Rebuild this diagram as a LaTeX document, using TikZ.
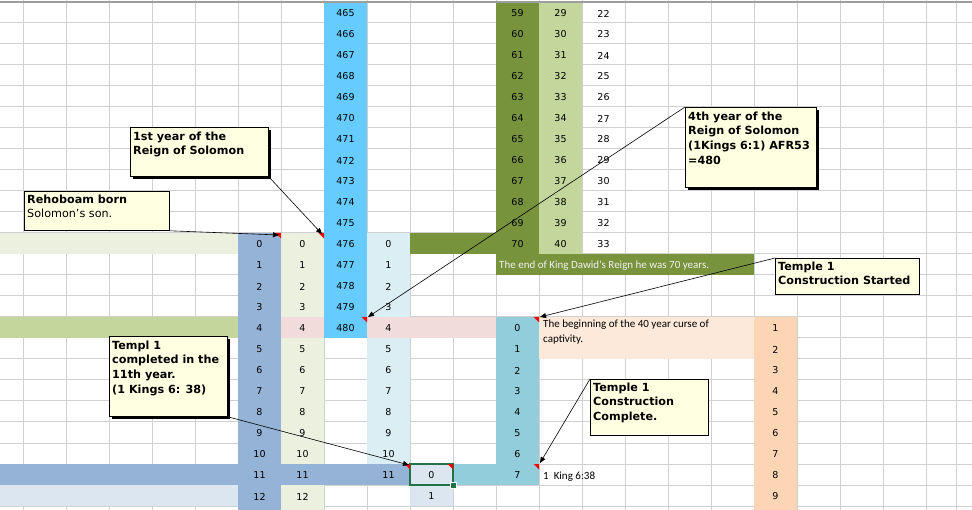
\documentclass[tikz,border=0pt]{standalone}
\usepackage{fontspec}
\setmainfont{DejaVu Sans}
\newfontfamily\calfont{Carlito}
\usetikzlibrary{arrows.meta,shadows,calc}
\definecolor{gridc}{RGB}{208,208,208}
\definecolor{topline}{RGB}{158,158,158}
\definecolor{skyb}{RGB}{102,204,255}
\definecolor{olivec}{RGB}{119,147,60}
\definecolor{lgreen}{RGB}{195,214,155}
\definecolor{bgrey}{RGB}{149,179,215}
\definecolor{beigec}{RGB}{235,241,222}
\definecolor{lblue}{RGB}{218,238,243}
\definecolor{pinkc}{RGB}{242,220,219}
\definecolor{tealc}{RGB}{146,205,220}
\definecolor{peachl}{RGB}{253,233,217}
\definecolor{peachc}{RGB}{252,213,180}
\definecolor{lbg}{RGB}{220,230,241}
\definecolor{noteY}{RGB}{255,255,225}
\definecolor{selg}{RGB}{33,115,70}
\definecolor{endtxt}{RGB}{242,242,242}
\tikzset{
  gridline/.style={gridc, line width=1pt},
  num/.style={font=\fontsize{9.5}{10}\selectfont, text=black, inner sep=0},
  celltext/.style={font=\calfont\fontsize{11}{15}\selectfont, inner sep=0, align=left},
  callout/.style={draw=black, line width=0.8pt, fill=noteY, inner sep=0, anchor=north west},
  shadowed/.style={drop shadow={shadow xshift=2.5pt, shadow yshift=-2.5pt, fill=black, opacity=1}},
  ctext/.style={anchor=north west, inner sep=0, align=left, font=\bfseries\fontsize{11.2}{14.7}\selectfont},
  arr/.style={draw=black, line width=0.6pt, -{Triangle[length=6pt,width=5pt]}},
  marker/.style={fill=red}
}
\begin{document}
\begin{tikzpicture}[x=1pt,y=-1pt]
\useasboundingbox (0,0) rectangle (972,510);
\clip (0,0) rectangle (972,510);
\fill[white] (0,0) rectangle (972,510);
% grid
\foreach \x in {23,66,...,926,956} \draw[gridline] (\x,0) -- (\x,510);
\foreach \r in {1,...,24} \draw[gridline] (0,{2+21*\r}) -- (972,{2+21*\r});
% fills
\fill[skyb] (324,2) rectangle (367,338);
\fill[olivec] (496,2) rectangle (539,254);
\fill[lgreen] (539,2) rectangle (582,254);
\fill[olivec] (410,233) rectangle (496,254);
\fill[beigec] (0,233) rectangle (238,254);
\fill[bgrey] (238,233) rectangle (281,510);
\fill[beigec] (281,233) rectangle (324,510);
\fill[lblue] (367,233) rectangle (410,464);
\fill[olivec] (496,254) rectangle (754,275);
\fill[lgreen] (0,317) rectangle (238,338);
\fill[pinkc] (281,317) rectangle (324,338);
\fill[pinkc] (367,317) rectangle (496,338);
\fill[tealc] (496,317) rectangle (539,485);
\fill[tealc] (453,464) rectangle (496,485);
\fill[peachl] (539,317) rectangle (754,359);
\fill[peachc] (754,317) rectangle (797,510);
\fill[bgrey] (0,464) rectangle (410,485);
\fill[lbg] (410,464) rectangle (453,506);
\fill[lbg] (0,485) rectangle (238,506);
\draw[topline, line width=1.2pt] (0,2) -- (972,2);
% numbers
\foreach \r [evaluate=\r as \v using {int(465+\r)}] in {0,...,15}
  \node[num] (s\r) at (345.5,{13.5+21*\r}) {\v};
\foreach \r [evaluate=\r as \v using {int(59+\r)}, evaluate=\r as \w using {int(29+\r)}, evaluate=\r as \u using {int(22+\r)}] in {0,...,11} {
  \node[num] (o\r) at (517.5,{13.5+21*\r}) {\v};
  \node[num] (g\r) at (560.5,{13.5+21*\r}) {\w};
  \node[num] (w\r) at (603.5,{13.5+21*\r}) {\u};
}
\foreach \r [evaluate=\r as \v using {int(\r-11)}] in {11,...,23} {
  \node[num] (a\r) at (259.5,{13.5+21*\r}) {\v};
  \node[num] (b\r) at (302.5,{13.5+21*\r}) {\v};
}
\foreach \r [evaluate=\r as \v using {int(\r-11)}] in {11,...,22}
  \node[num] (d\r) at (388.5,{13.5+21*\r}) {\v};
\node[num] (e22) at (431.5,{13.5+21*22}) {0};
\node[num] (e23) at (431.5,{13.5+21*23}) {1};
\foreach \r [evaluate=\r as \v using {int(\r-15)}] in {15,...,22}
  \node[num] (t\r) at (517.5,{13.5+21*\r}) {\v};
\foreach \r [evaluate=\r as \v using {int(\r-14)}] in {15,...,23}
  \node[num] (p\r) at (775.5,{13.5+21*\r}) {\v};
% cell texts
\node[celltext, text=endtxt, anchor=base west] (endreign) at (499,269) {The end of King Dawid's Reign he was 70 years.};
\node[celltext, text=black, anchor=north west] (curse) at (543,319) {\rule{0pt}{8pt}The beginning of the 40 year curse of\\captivity.};
\node[celltext, text=black, anchor=base west] (kings) at (543,479) {1\ \ King 6:38};
% selected cell
\draw[selg, line width=2pt] (410,464) rectangle (453,485);
\draw[white, line width=0.6pt, fill=selg] (450.5,482.5) rectangle (456.5,488.5);
% comment markers
\foreach \px/\py in {281/233, 324/233, 367/317, 539/317, 410/464, 453/464, 539/464}
  \fill[marker] (\px-5.5,\py) -- (\px,\py) -- (\px,\py+5.5) -- cycle;
% arrow targets
\coordinate (t1) at (279,235);
\coordinate (t2) at (322,234);
\coordinate (t3) at (368,317);
\coordinate (t4) at (540,317);
\coordinate (t5) at (409,465);
\coordinate (t6) at (540,463);
% callouts
\node[callout, minimum width=145pt, minimum height=39pt] (c1) at (24,191) {};
\node[callout, shadowed, minimum width=138pt, minimum height=49pt] (c2) at (130,127) {};
\node[callout, shadowed, minimum width=131pt, minimum height=80pt] (c3) at (685,107) {};
\node[callout, minimum width=144pt, minimum height=36pt] (c4) at (775,258) {};
\node[callout, shadowed, minimum width=118pt, minimum height=80pt] (c5) at (109,336) {};
\node[callout, minimum width=118pt, minimum height=56pt] (c6) at (590,379) {};
\node[ctext] (c1t) at ($(c1.north west)+(3,3)$) {\rule{0pt}{9pt}Rehoboam born\\\mdseries Solomon's son.};
\node[ctext] (c2t) at ($(c2.north west)+(3,4)$) {\rule{0pt}{9pt}1st year of the\\Reign of Solomon};
\node[ctext] (c3t) at ($(c3.north west)+(3,4)$) {\rule{0pt}{9pt}4th year of the\\Reign of Solomon\\(1Kings 6:1) AFR53\\=480};
\node[ctext] (c4t) at ($(c4.north west)+(3,3)$) {\rule{0pt}{9pt}Temple 1\\Construction Started};
\node[ctext] (c5t) at ($(c5.north west)+(3,4)$) {\rule{0pt}{9pt}Templ 1\\completed in the\\11th year.\\(1 Kings 6: 38)};
\node[ctext] (c6t) at ($(c6.north west)+(3,3)$) {\rule{0pt}{9pt}Temple 1\\Construction\\Complete.};
% connectors
\draw[arr] (c1.south east) -- (t1);
\draw[arr] (c2.south east) -- (t2);
\draw[arr] (c3.north west) -- (t3);
\draw[arr] (c4.north west) -- (t4);
\draw[arr] (c5.south east) -- (t5);
\draw[arr] (c6.north west) -- (t6);
\end{tikzpicture}
\end{document}
